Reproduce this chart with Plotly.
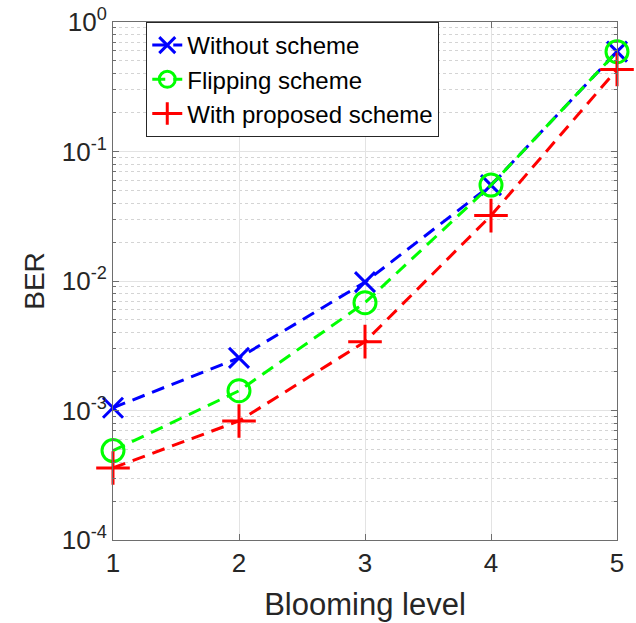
import plotly.graph_objects as go

levels = [1, 2, 3, 4, 5]
ber_without = [1.05e-3, 2.55e-3, 9.8e-3, 0.055, 0.59]
ber_flipping = [4.9e-4, 1.42e-3, 6.8e-3, 0.055, 0.59]
ber_proposed = [3.6e-4, 8.3e-4, 3.4e-3, 0.032, 0.43]

names = ["Without scheme", "Flipping scheme", "With proposed scheme"]
colors = ["#0000ff", "#00ff00", "#ff0000"]
symbols = ["x-thin-open", "circle-open", "cross-thin-open"]
sizes = [20, 22, 24]

ytickvals = [1e-4, 1e-3, 1e-2, 1e-1, 1]
yticktext = ["10<sup>-4</sup>", "10<sup>-3</sup>", "10<sup>-2</sup>", "10<sup>-1</sup>", "10<sup>0</sup>"]
minor_vals = [m * 10.0 ** e for e in range(-4, 0) for m in range(2, 10)]

fig = go.Figure()
for ys, n, c, s, sz in zip([ber_without, ber_flipping, ber_proposed], names, colors, symbols, sizes):
    fig.add_trace(go.Scatter(
        x=levels, y=ys, name=n, mode="lines+markers",
        line=dict(color=c, width=3, dash="13px,8px"),
        marker=dict(symbol=s, size=sz, color=c, line=dict(color=c, width=3)),
        cliponaxis=False,
    ))

font_family = "Liberation Sans, Arial, sans-serif"
fig.update_layout(
    width=636, height=623,
    margin=dict(l=113, r=19, t=22, b=83, autoexpand=False),
    paper_bgcolor="white", plot_bgcolor="white",
    font=dict(family=font_family, color="#262626"),
    showlegend=True,
    legend=dict(
        x=0.066, y=1, xanchor="left", yanchor="top",
        bgcolor="white", bordercolor="#262626", borderwidth=1,
        font=dict(size=24, color="#000000"),
        tracegroupgap=0, itemwidth=30,
    ),
    xaxis=dict(
        range=[1, 5], tickvals=levels, ticktext=[str(v) for v in levels],
        showline=True, linecolor="#6e6e6e", linewidth=1, mirror="allticks",
        ticks="inside", ticklen=6, tickcolor="#6e6e6e",
        showgrid=True, gridcolor="#e3e3e3", gridwidth=1,
        tickfont=dict(size=26, color="#262626"),
        ticklabeloverflow="allow",
        title=dict(text="Blooming level", font=dict(size=31, color="#262626"), standoff=16),
        zeroline=False, automargin=False,
    ),
    yaxis=dict(
        type="log", range=[-4, 0], tickvals=ytickvals, ticktext=yticktext,
        showline=True, linecolor="#6e6e6e", linewidth=1, mirror="allticks",
        ticks="inside", ticklen=6, tickcolor="#6e6e6e",
        showgrid=True, gridcolor="#e3e3e3", gridwidth=1,
        tickfont=dict(size=26, color="#262626"),
        ticklabeloverflow="allow",
        title=dict(text="BER", font=dict(size=28, color="#262626"), standoff=8),
        minor=dict(tickmode="array", tickvals=minor_vals, ticks="inside", ticklen=3,
                   tickcolor="#6e6e6e", showgrid=True, gridcolor="#d4d4d4",
                   griddash="dot", gridwidth=1),
        zeroline=False, automargin=False,
    ),
)

fig.write_html(
    "out.html",
    config={"displayModeBar": False},
    post_script="document.body.style.margin='0';document.body.style.overflow='hidden';",
)
